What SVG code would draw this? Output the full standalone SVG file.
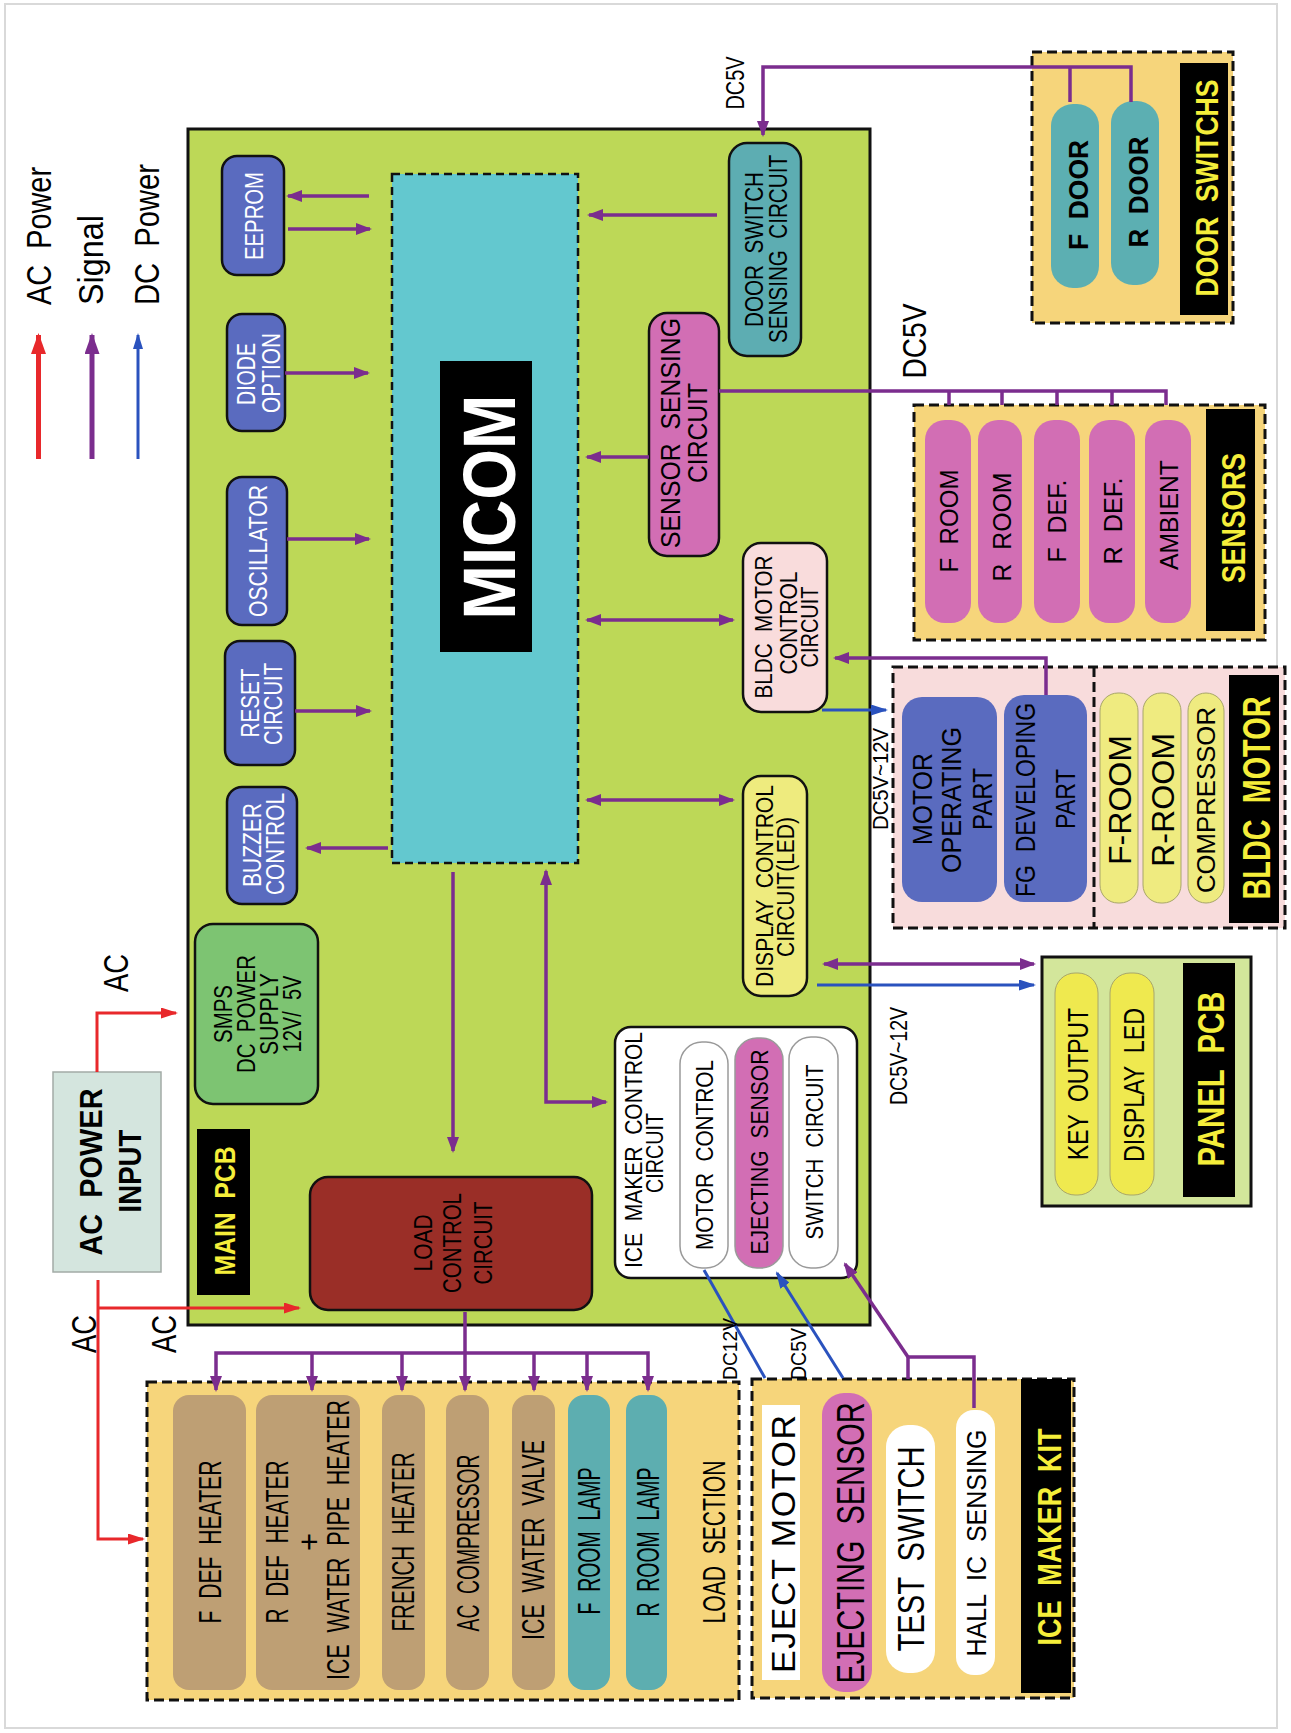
<svg xmlns="http://www.w3.org/2000/svg" width="1291" height="1733" viewBox="0 0 1291 1733" xml:space="preserve">
<style>
text{font-family:"Liberation Sans",Arial,sans-serif;text-anchor:middle;dominant-baseline:central;fill:#000;white-space:pre}
.s{text-anchor:start}
.w{fill:#fff}
.bd{font-weight:bold}
.yl{fill:#F5EE3A;font-weight:bold}
.pcb{fill:#BDD857;stroke:#111;stroke-width:3}
.bb{fill:#5A6BBF;stroke:#111;stroke-width:2.5}
.box{stroke:#111;stroke-width:2.5}
.dash{fill:#F6D57B;stroke:#111;stroke-width:3;stroke-dasharray:10 5}
.lbl{fill:#000}
.pk{fill:#D26EB4}
.tan{fill:#BE9F74}
.tl{fill:#5DAEB0}
.ye{fill:#EFEB80;stroke:#A8A66A;stroke-width:1}
.pl{fill:none;stroke:#7B2D8E;stroke-width:3.5}
.rl{fill:none;stroke:#E8282B;stroke-width:3}
.bl{fill:none;stroke:#2A52BE;stroke-width:3}
</style>
<defs>
<marker id="mp" viewBox="0 0 16 12" refX="14" refY="6" markerWidth="16" markerHeight="12" markerUnits="userSpaceOnUse" orient="auto-start-reverse"><path d="M0,0 L16,6 L0,12 z" fill="#7B2D8E"/></marker>
<marker id="mr" viewBox="0 0 17 11" refX="15" refY="5.5" markerWidth="17" markerHeight="11" markerUnits="userSpaceOnUse" orient="auto"><path d="M0,0 L17,5.5 L0,11 z" fill="#E8282B"/></marker>
<marker id="mb" viewBox="0 0 17 11" refX="15" refY="5.5" markerWidth="17" markerHeight="11" markerUnits="userSpaceOnUse" orient="auto"><path d="M0,0 L17,5.5 L0,11 z" fill="#2A52BE"/></marker>
<marker id="mlr" viewBox="0 0 21 15" refX="19" refY="7.5" markerWidth="21" markerHeight="15" markerUnits="userSpaceOnUse" orient="auto"><path d="M0,0 L21,7.5 L0,15 z" fill="#E8282B"/></marker>
<marker id="mlp" viewBox="0 0 21 15" refX="19" refY="7.5" markerWidth="21" markerHeight="15" markerUnits="userSpaceOnUse" orient="auto"><path d="M0,0 L21,7.5 L0,15 z" fill="#7B2D8E"/></marker>
<marker id="mlb" viewBox="0 0 16 10" refX="14" refY="5" markerWidth="16" markerHeight="10" markerUnits="userSpaceOnUse" orient="auto"><path d="M0,0 L16,5 L0,10 z" fill="#2A52BE"/></marker>
</defs>
<rect x="0" y="0" width="1291" height="1733" fill="#fff"/>
<rect x="5" y="4" width="1272" height="1724" fill="none" stroke="#D9D9D9" stroke-width="2"/>

<g id="legend">
<path d="M38.5,459 V335" fill="none" stroke="#E8282B" stroke-width="5" marker-end="url(#mlr)"/>
<path d="M92,459 V335" fill="none" stroke="#7B2D8E" stroke-width="5" marker-end="url(#mlp)"/>
<path d="M138,459 V335" fill="none" stroke="#2A52BE" stroke-width="3" marker-end="url(#mlb)"/>
<text class="s" transform="translate(38.5,305) rotate(-90)" font-size="35" textLength="138" lengthAdjust="spacingAndGlyphs">AC  Power</text>
<text class="s" transform="translate(90,305) rotate(-90)" font-size="35" textLength="90" lengthAdjust="spacingAndGlyphs">Signal</text>
<text class="s" transform="translate(146.5,305) rotate(-90)" font-size="35" textLength="141" lengthAdjust="spacingAndGlyphs">DC  Power</text>
</g>

<g id="main-pcb">
<rect class="pcb" x="188" y="129" width="682" height="1196"/>
<rect class="lbl" x="197" y="1129" width="53" height="166"/>
<text class="yl" transform="translate(224,1211) rotate(-90)" font-size="30" textLength="129" lengthAdjust="spacingAndGlyphs">MAIN  PCB</text>
</g>

<g id="micom">
<rect x="392" y="174" width="186" height="689" fill="#63C8CF" stroke="#111" stroke-width="2.5" stroke-dasharray="8 5"/>
<rect class="lbl" x="440" y="361" width="92" height="291"/>
<text class="w bd" transform="translate(489,507) rotate(-90)" font-size="75" textLength="225" lengthAdjust="spacingAndGlyphs">MICOM</text>
</g>

<g id="eeprom">
<rect class="bb" x="222" y="156" width="62" height="119" rx="15"/>
<text class="w" transform="translate(254,216) rotate(-90)" font-size="25" textLength="88" lengthAdjust="spacingAndGlyphs">EEPROM</text>
</g>
<g id="diode-option">
<rect class="bb" x="227" y="314" width="58" height="117" rx="15"/>
<text class="w" transform="translate(246,374) rotate(-90)" font-size="25" textLength="62" lengthAdjust="spacingAndGlyphs">DIODE</text>
<text class="w" transform="translate(270.5,373) rotate(-90)" font-size="25" textLength="80" lengthAdjust="spacingAndGlyphs">OPTION</text>
</g>
<g id="oscillator">
<rect class="bb" x="227" y="477" width="60" height="148" rx="15"/>
<text class="w" transform="translate(258,551) rotate(-90)" font-size="25" textLength="132" lengthAdjust="spacingAndGlyphs">OSCILLATOR</text>
</g>
<g id="reset-circuit">
<rect class="bb" x="225" y="641" width="70" height="124" rx="15"/>
<text class="w" transform="translate(250,703) rotate(-90)" font-size="25" textLength="69" lengthAdjust="spacingAndGlyphs">RESET</text>
<text class="w" transform="translate(272.5,704) rotate(-90)" font-size="25" textLength="82" lengthAdjust="spacingAndGlyphs">CIRCUIT</text>
</g>
<g id="buzzer-control">
<rect class="bb" x="227" y="787" width="70" height="117" rx="15"/>
<text class="w" transform="translate(252,845) rotate(-90)" font-size="25" textLength="84" lengthAdjust="spacingAndGlyphs">BUZZER</text>
<text class="w" transform="translate(275,844) rotate(-90)" font-size="25" textLength="102" lengthAdjust="spacingAndGlyphs">CONTROL</text>
</g>

<g id="smps">
<rect class="box" x="195" y="924" width="123" height="180" rx="18" fill="#7DC472"/>
<text transform="translate(222.5,1014) rotate(-90)" font-size="25" textLength="58" lengthAdjust="spacingAndGlyphs">SMPS</text>
<text transform="translate(246,1014) rotate(-90)" font-size="25" textLength="118" lengthAdjust="spacingAndGlyphs">DC  POWER</text>
<text transform="translate(269,1014) rotate(-90)" font-size="25" textLength="82" lengthAdjust="spacingAndGlyphs">SUPPLY</text>
<text transform="translate(292,1014) rotate(-90)" font-size="25" textLength="77" lengthAdjust="spacingAndGlyphs">12V/  5V</text>
</g>

<g id="load-control">
<rect class="box" x="310" y="1177" width="282" height="133" rx="18" fill="#9A2E27"/>
<text transform="translate(422.5,1243) rotate(-90)" font-size="26" textLength="57" lengthAdjust="spacingAndGlyphs">LOAD</text>
<text transform="translate(452,1243) rotate(-90)" font-size="26" textLength="100" lengthAdjust="spacingAndGlyphs">CONTROL</text>
<text transform="translate(482.5,1243) rotate(-90)" font-size="26" textLength="83" lengthAdjust="spacingAndGlyphs">CIRCUIT</text>
</g>

<g id="ice-maker-control">
<rect class="box" x="615" y="1027" width="242" height="251" rx="16" fill="#fff"/>
<text transform="translate(633.5,1150) rotate(-90)" font-size="23" textLength="236" lengthAdjust="spacingAndGlyphs">ICE  MAKER  CONTROL</text>
<text transform="translate(655,1153) rotate(-90)" font-size="23" textLength="80" lengthAdjust="spacingAndGlyphs">CIRCUIT</text>
<rect x="680" y="1042" width="48" height="226" rx="22" fill="#fff" stroke="#9A9A9A" stroke-width="1.5"/>
<text transform="translate(705,1155) rotate(-90)" font-size="23" textLength="190" lengthAdjust="spacingAndGlyphs">MOTOR  CONTROL</text>
<rect x="735" y="1038" width="48" height="230" rx="22" fill="#D26EB4" stroke="#9A9A9A" stroke-width="1.5"/>
<text transform="translate(760,1152) rotate(-90)" font-size="23" textLength="205" lengthAdjust="spacingAndGlyphs">EJECTING  SENSOR</text>
<rect x="789" y="1037" width="49" height="231" rx="22" fill="#fff" stroke="#9A9A9A" stroke-width="1.5"/>
<text transform="translate(815,1152) rotate(-90)" font-size="23" textLength="175" lengthAdjust="spacingAndGlyphs">SWITCH  CIRCUIT</text>
</g>

<g id="display-control">
<rect class="box" x="743" y="776" width="64" height="220" rx="18" fill="#EEEB7E"/>
<text transform="translate(765,886) rotate(-90)" font-size="23" textLength="202" lengthAdjust="spacingAndGlyphs">DISPLAY  CONTROL</text>
<text transform="translate(786,887) rotate(-90)" font-size="23" textLength="140" lengthAdjust="spacingAndGlyphs">CIRCUIT(LED)</text>
</g>

<g id="bldc-control">
<rect class="box" x="743" y="543" width="84" height="169" rx="18" fill="#F9DCDC"/>
<text transform="translate(763.5,627) rotate(-90)" font-size="24" textLength="143" lengthAdjust="spacingAndGlyphs">BLDC  MOTOR</text>
<text transform="translate(788.5,623) rotate(-90)" font-size="24" textLength="103" lengthAdjust="spacingAndGlyphs">CONTROL</text>
<text transform="translate(809,627) rotate(-90)" font-size="24" textLength="81" lengthAdjust="spacingAndGlyphs">CIRCUIT</text>
</g>

<g id="sensor-sensing">
<rect class="box" x="649" y="313" width="70" height="243" rx="18" fill="#D26EB4"/>
<text transform="translate(670,433) rotate(-90)" font-size="28" textLength="230" lengthAdjust="spacingAndGlyphs">SENSOR  SENSING</text>
<text transform="translate(697.5,433) rotate(-90)" font-size="28" textLength="100" lengthAdjust="spacingAndGlyphs">CIRCUIT</text>
</g>

<g id="door-switch-sensing">
<rect class="box" x="729" y="143" width="72" height="213" rx="18" fill="#5DADB2"/>
<text transform="translate(754,249.5) rotate(-90)" font-size="25" textLength="155" lengthAdjust="spacingAndGlyphs">DOOR  SWITCH</text>
<text transform="translate(777.5,249) rotate(-90)" font-size="25" textLength="188" lengthAdjust="spacingAndGlyphs">SENSING  CIRCUIT</text>
</g>

<g id="ac-power-input">
<rect x="53" y="1072" width="108" height="200" fill="#D4E5DE" stroke="#A3ABA6" stroke-width="1.5"/>
<text class="bd" transform="translate(90.5,1172) rotate(-90)" font-size="32" textLength="167" lengthAdjust="spacingAndGlyphs">AC  POWER</text>
<text class="bd" transform="translate(129.5,1171) rotate(-90)" font-size="32" textLength="83" lengthAdjust="spacingAndGlyphs">INPUT</text>
</g>

<g id="door-switchs">
<rect class="dash" x="1032" y="52" width="201" height="271"/>
<rect x="1051" y="104" width="48" height="184" rx="22" fill="#5CAFB2"/>
<text class="bd" transform="translate(1078,195) rotate(-90)" font-size="28" textLength="110" lengthAdjust="spacingAndGlyphs">F  DOOR</text>
<rect x="1111" y="101" width="48" height="184" rx="22" fill="#5CAFB2"/>
<text class="bd" transform="translate(1138,192) rotate(-90)" font-size="28" textLength="111" lengthAdjust="spacingAndGlyphs">R  DOOR</text>
<rect class="lbl" x="1180" y="63" width="48" height="252"/>
<text class="yl" transform="translate(1207.5,188) rotate(-90)" font-size="31" textLength="217" lengthAdjust="spacingAndGlyphs">DOOR  SWITCHS</text>
</g>

<g id="sensors">
<rect class="dash" x="914" y="405" width="351" height="235"/>
<rect class="pk" x="925" y="420" width="46" height="203" rx="20"/>
<text transform="translate(949,521) rotate(-90)" font-size="26" textLength="103" lengthAdjust="spacingAndGlyphs">F  ROOM</text>
<rect class="pk" x="978" y="420" width="44" height="203" rx="20"/>
<text transform="translate(1002,527) rotate(-90)" font-size="26" textLength="109" lengthAdjust="spacingAndGlyphs">R  ROOM</text>
<rect class="pk" x="1034" y="420" width="46" height="203" rx="20"/>
<text transform="translate(1057,521) rotate(-90)" font-size="26" textLength="83" lengthAdjust="spacingAndGlyphs">F  DEF.</text>
<rect class="pk" x="1089" y="420" width="46" height="203" rx="20"/>
<text transform="translate(1113,521) rotate(-90)" font-size="26" textLength="87" lengthAdjust="spacingAndGlyphs">R  DEF.</text>
<rect class="pk" x="1145" y="420" width="46" height="203" rx="20"/>
<text transform="translate(1169,515) rotate(-90)" font-size="26" textLength="110" lengthAdjust="spacingAndGlyphs">AMBIENT</text>
<rect class="lbl" x="1206" y="409" width="49" height="222"/>
<text class="yl" transform="translate(1233,518) rotate(-90)" font-size="33" textLength="130" lengthAdjust="spacingAndGlyphs">SENSORS</text>
</g>

<g id="bldc-motor">
<rect x="893" y="667" width="392" height="261" fill="#F8DCDC" stroke="#111" stroke-width="3" stroke-dasharray="10 5"/>
<line x1="1094" y1="667" x2="1094" y2="928" stroke="#111" stroke-width="3" stroke-dasharray="10 5"/>
<rect x="902" y="697" width="95" height="205" rx="20" fill="#5A6BBF"/>
<text transform="translate(922,799) rotate(-90)" font-size="28" textLength="92" lengthAdjust="spacingAndGlyphs">MOTOR</text>
<text transform="translate(951,800) rotate(-90)" font-size="28" textLength="146" lengthAdjust="spacingAndGlyphs">OPERATING</text>
<text transform="translate(982,799) rotate(-90)" font-size="28" textLength="62" lengthAdjust="spacingAndGlyphs">PART</text>
<rect x="1004" y="695" width="83" height="207" rx="20" fill="#5A6BBF"/>
<text transform="translate(1025,800) rotate(-90)" font-size="28" textLength="194" lengthAdjust="spacingAndGlyphs">FG  DEVELOPING</text>
<text transform="translate(1065,799) rotate(-90)" font-size="28" textLength="60" lengthAdjust="spacingAndGlyphs">PART</text>
<rect class="ye" x="1100" y="693" width="38" height="210" rx="18"/>
<text transform="translate(1120.5,800) rotate(-90)" font-size="31" textLength="130" lengthAdjust="spacingAndGlyphs">F-ROOM</text>
<rect class="ye" x="1143" y="693" width="38" height="210" rx="18"/>
<text transform="translate(1163.5,800) rotate(-90)" font-size="31" textLength="134" lengthAdjust="spacingAndGlyphs">R-ROOM</text>
<rect class="ye" x="1188" y="693" width="36" height="210" rx="18"/>
<text transform="translate(1205.5,800) rotate(-90)" font-size="26" textLength="186" lengthAdjust="spacingAndGlyphs">COMPRESSOR</text>
<rect class="lbl" x="1229" y="675" width="50" height="248"/>
<text class="yl" transform="translate(1256.5,798) rotate(-90)" font-size="38" textLength="203" lengthAdjust="spacingAndGlyphs">BLDC  MOTOR</text>
</g>

<g id="panel-pcb">
<rect x="1042" y="957" width="209" height="249" fill="#D3E69B" stroke="#111" stroke-width="3"/>
<rect x="1055" y="973" width="43" height="222" rx="20" fill="#EFE94F" stroke="#A8A66A" stroke-width="1"/>
<text transform="translate(1077.5,1084) rotate(-90)" font-size="29" textLength="152" lengthAdjust="spacingAndGlyphs">KEY  OUTPUT</text>
<rect x="1110" y="973" width="44" height="222" rx="20" fill="#EFE94F" stroke="#A8A66A" stroke-width="1"/>
<text transform="translate(1133.5,1085) rotate(-90)" font-size="29" textLength="154" lengthAdjust="spacingAndGlyphs">DISPLAY  LED</text>
<rect class="lbl" x="1183" y="963" width="52" height="234"/>
<text class="yl" transform="translate(1211.5,1079) rotate(-90)" font-size="36" textLength="175" lengthAdjust="spacingAndGlyphs">PANEL  PCB</text>
</g>

<g id="ice-maker-kit">
<rect class="dash" x="752" y="1379" width="322" height="319"/>
<rect x="762" y="1405" width="38" height="275" fill="#fff"/>
<text transform="translate(783,1544) rotate(-90)" font-size="34" textLength="258" lengthAdjust="spacing">EJECT MOTOR</text>
<rect class="pk" x="822" y="1393" width="50" height="299" rx="22"/>
<text transform="translate(850.5,1543) rotate(-90)" font-size="38" textLength="281" lengthAdjust="spacingAndGlyphs">EJECTING  SENSOR</text>
<rect x="886" y="1425" width="49" height="248" rx="22" fill="#fff"/>
<text transform="translate(911.5,1549) rotate(-90)" font-size="36" textLength="205" lengthAdjust="spacingAndGlyphs">TEST  SWITCH</text>
<rect x="956" y="1410" width="39" height="265" rx="18" fill="#fff"/>
<text transform="translate(976,1543) rotate(-90)" font-size="28" textLength="227" lengthAdjust="spacingAndGlyphs">HALL  IC  SENSING</text>
<rect class="lbl" x="1021" y="1379" width="50" height="314"/>
<text class="yl" transform="translate(1048.5,1537) rotate(-90)" font-size="34" textLength="217" lengthAdjust="spacingAndGlyphs">ICE  MAKER  KIT</text>
</g>

<g id="load-section">
<rect class="dash" x="147" y="1382" width="592" height="318"/>
<rect class="tan" x="173" y="1395" width="73" height="295" rx="16"/>
<text transform="translate(210.5,1542) rotate(-90)" font-size="31" textLength="163" lengthAdjust="spacingAndGlyphs">F  DEF  HEATER</text>
<rect class="tan" x="256" y="1395" width="104" height="295" rx="16"/>
<text transform="translate(277,1542) rotate(-90)" font-size="31" textLength="163" lengthAdjust="spacingAndGlyphs">R  DEF  HEATER</text>
<text transform="translate(309,1542) rotate(-90)" font-size="31">+</text>
<text transform="translate(338,1540) rotate(-90)" font-size="31" textLength="280" lengthAdjust="spacingAndGlyphs">ICE  WATER  PIPE  HEATER</text>
<rect class="tan" x="382" y="1395" width="43" height="295" rx="16"/>
<text transform="translate(403.5,1542) rotate(-90)" font-size="31" textLength="179" lengthAdjust="spacingAndGlyphs">FRENCH  HEATER</text>
<rect class="tan" x="446" y="1395" width="43" height="295" rx="16"/>
<text transform="translate(468,1543) rotate(-90)" font-size="31" textLength="177" lengthAdjust="spacingAndGlyphs">AC  COMPRESSOR</text>
<rect class="tan" x="512" y="1395" width="43" height="295" rx="16"/>
<text transform="translate(533,1540) rotate(-90)" font-size="31" textLength="200" lengthAdjust="spacingAndGlyphs">ICE  WATER  VALVE</text>
<rect class="tl" x="568" y="1395" width="42" height="295" rx="16"/>
<text transform="translate(589,1541) rotate(-90)" font-size="31" textLength="147" lengthAdjust="spacingAndGlyphs">F  ROOM  LAMP</text>
<rect class="tl" x="626" y="1395" width="41" height="295" rx="16"/>
<text transform="translate(648,1542) rotate(-90)" font-size="31" textLength="149" lengthAdjust="spacingAndGlyphs">R  ROOM  LAMP</text>
<text transform="translate(714.5,1542) rotate(-90)" font-size="31" textLength="163" lengthAdjust="spacingAndGlyphs">LOAD  SECTION</text>
</g>

<g id="connectors">
<path class="pl" d="M369,196 H288" marker-end="url(#mp)"/>
<path class="pl" d="M288,229 H370" marker-end="url(#mp)"/>
<path class="pl" d="M285,373 H368" marker-end="url(#mp)"/>
<path class="pl" d="M287,539 H369" marker-end="url(#mp)"/>
<path class="pl" d="M295,711 H370" marker-end="url(#mp)"/>
<path class="pl" d="M388,848 H307" marker-end="url(#mp)"/>
<path class="pl" d="M717,215 H589" marker-end="url(#mp)"/>
<path class="pl" d="M649,457 H587" marker-end="url(#mp)"/>
<path class="pl" d="M587,620 H733" marker-start="url(#mp)" marker-end="url(#mp)"/>
<path class="pl" d="M587,800 H733" marker-start="url(#mp)" marker-end="url(#mp)"/>
<path class="pl" d="M453,872 V1151" marker-end="url(#mp)"/>
<path class="pl" d="M606,1102 H546 V871" marker-start="url(#mp)" marker-end="url(#mp)"/>
<path class="pl" d="M1131,102 V67 H763 V135" marker-end="url(#mp)"/>
<path class="pl" d="M1070,67 V102"/>
<path class="pl" d="M719,391 H1166 V405 M949,391 V405 M1002,391 V405 M1057,391 V405 M1112,391 V405"/>
<path class="pl" d="M1046,695 V658 H835" marker-end="url(#mp)"/>
<path class="pl" d="M824,964 H1034" marker-start="url(#mp)" marker-end="url(#mp)"/>
<path class="pl" d="M465,1312 V1390" marker-end="url(#mp)"/>
<path class="pl" d="M216,1390 V1353 H648 V1390" marker-start="url(#mp)" marker-end="url(#mp)"/>
<path class="pl" d="M312,1353 V1390" marker-end="url(#mp)"/>
<path class="pl" d="M402,1353 V1390" marker-end="url(#mp)"/>
<path class="pl" d="M534,1353 V1390" marker-end="url(#mp)"/>
<path class="pl" d="M587,1353 V1390" marker-end="url(#mp)"/>
<path class="pl" d="M974,1408 V1357 H908 V1379"/>
<path class="pl" d="M908,1357 L845,1264" marker-end="url(#mp)"/>
<path class="rl" d="M97,1072 V1013 H176" marker-end="url(#mr)"/>
<path class="rl" d="M98,1280 V1539 H143" marker-end="url(#mr)"/>
<path class="rl" d="M98,1308 H299" marker-end="url(#mr)"/>
<path class="bl" d="M822,710 H886" marker-end="url(#mb)"/>
<path class="bl" d="M817,985 H1034" marker-end="url(#mb)"/>
<path class="bl" d="M765,1378 L704,1270"/>
<path class="bl" d="M843,1378 L777,1273" marker-end="url(#mb)"/>
<text transform="translate(115.5,973) rotate(-90)" font-size="35" textLength="38" lengthAdjust="spacingAndGlyphs">AC</text>
<text transform="translate(83,1334) rotate(-90)" font-size="35" textLength="38" lengthAdjust="spacingAndGlyphs">AC</text>
<text transform="translate(163,1334) rotate(-90)" font-size="35" textLength="38" lengthAdjust="spacingAndGlyphs">AC</text>
<text transform="translate(735,83) rotate(-90)" font-size="25" textLength="53" lengthAdjust="spacingAndGlyphs">DC5V</text>
<text transform="translate(913.5,341) rotate(-90)" font-size="34" textLength="75" lengthAdjust="spacingAndGlyphs">DC5V</text>
<text transform="translate(880,779) rotate(-90)" font-size="22" textLength="102" lengthAdjust="spacingAndGlyphs">DC5V~12V</text>
<text transform="translate(898.5,1056) rotate(-90)" font-size="23" textLength="98" lengthAdjust="spacingAndGlyphs">DC5V~12V</text>
<text transform="translate(729.5,1349) rotate(-90)" font-size="21" textLength="62" lengthAdjust="spacingAndGlyphs">DC12V</text>
<text transform="translate(798.5,1354) rotate(-90)" font-size="22" textLength="52" lengthAdjust="spacingAndGlyphs">DC5V</text>
</g>
</svg>
